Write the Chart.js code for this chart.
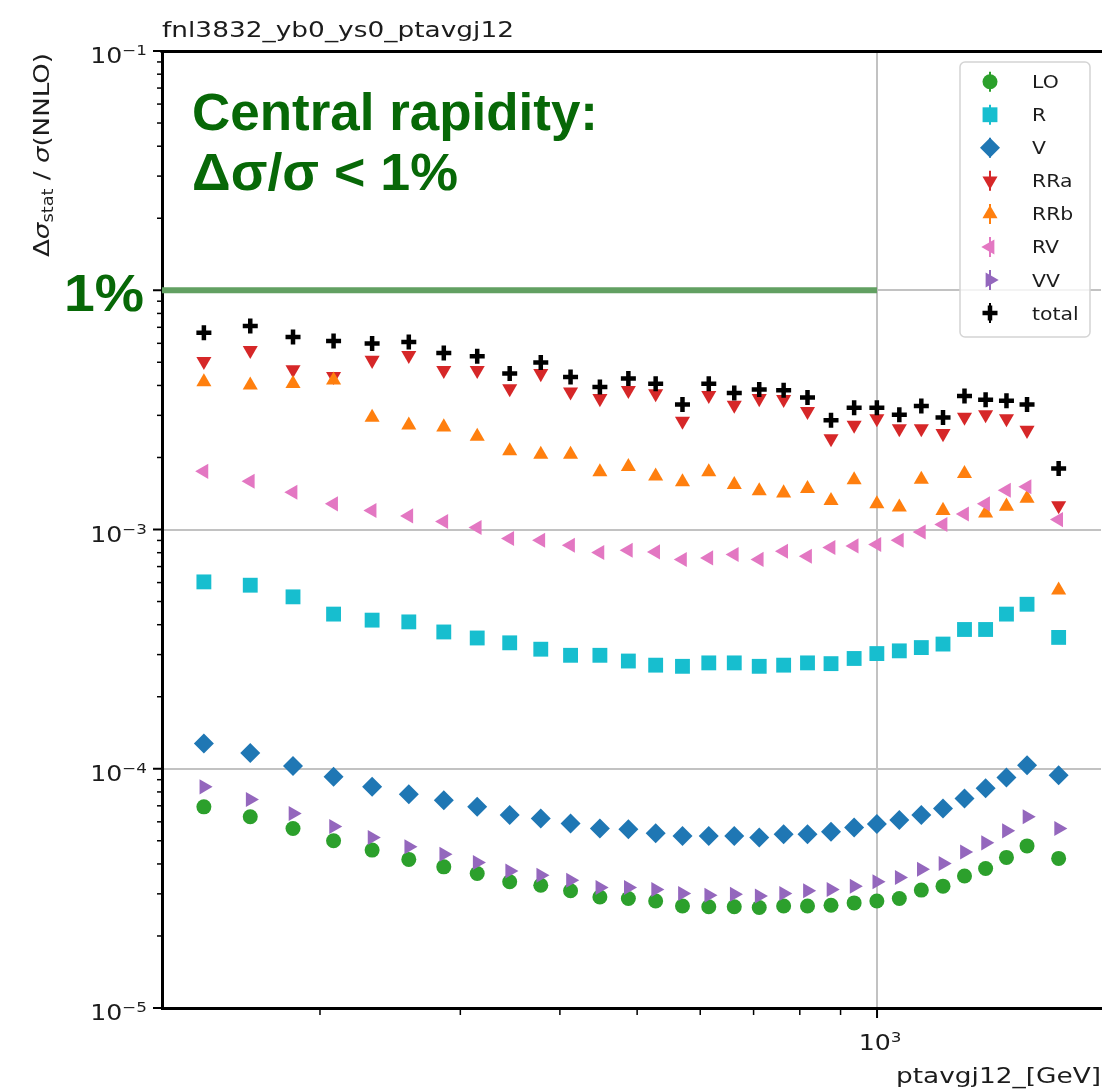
<!DOCTYPE html>
<html>
<head>
<meta charset="utf-8">
<script src="https://cdn.jsdelivr.net/npm/chart.js@4.4.1/dist/chart.umd.min.js"></script>
<style>
  html, body { margin: 0; padding: 0; background: #fff; }
  canvas { display: block; }
</style>
</head>
<body>
<canvas id="chart" width="1102" height="1090"></canvas>
<script>
// ptavg bin centres [GeV]
const ptavg = [143, 163.5, 185, 208, 232.5, 258.5, 286, 315, 346, 378.5, 412.5, 449, 487.5, 527.5, 570,
  615, 662, 711.5, 763.5, 818, 875.5, 936, 999.5, 1066.5, 1136.5, 1210, 1287.5, 1368.5, 1453.5, 1542.5, 1690];

// relative statistical uncertainty per contribution
const statLO = [6.93e-5, 6.30e-5, 5.63e-5, 5.00e-5, 4.57e-5, 4.18e-5, 3.89e-5, 3.65e-5, 3.37e-5, 3.26e-5, 3.09e-5,
  2.91e-5, 2.87e-5, 2.80e-5, 2.67e-5, 2.65e-5, 2.65e-5, 2.63e-5, 2.67e-5, 2.67e-5, 2.69e-5, 2.75e-5, 2.80e-5,
  2.87e-5, 3.11e-5, 3.23e-5, 3.56e-5, 3.83e-5, 4.26e-5, 4.76e-5, 4.22e-5];
const statR = [6.04e-4, 5.85e-4, 5.23e-4, 4.43e-4, 4.18e-4, 4.11e-4, 3.73e-4, 3.52e-4, 3.36e-4, 3.16e-4, 2.98e-4,
  2.98e-4, 2.82e-4, 2.71e-4, 2.68e-4, 2.77e-4, 2.77e-4, 2.68e-4, 2.71e-4, 2.77e-4, 2.75e-4, 2.89e-4, 3.03e-4,
  3.11e-4, 3.21e-4, 3.32e-4, 3.82e-4, 3.82e-4, 4.43e-4, 4.87e-4, 3.54e-4];
const statV = [1.276e-4, 1.165e-4, 1.028e-4, 9.25e-5, 8.40e-5, 7.83e-5, 7.39e-5, 6.93e-5, 6.40e-5, 6.20e-5, 5.91e-5,
  5.63e-5, 5.58e-5, 5.37e-5, 5.23e-5, 5.23e-5, 5.23e-5, 5.16e-5, 5.33e-5, 5.33e-5, 5.45e-5, 5.68e-5, 5.87e-5,
  6.10e-5, 6.40e-5, 6.82e-5, 7.51e-5, 8.28e-5, 9.20e-5, 1.035e-4, 9.40e-5];
const statRRa = [5.05e-3, 5.61e-3, 4.66e-3, 4.37e-3, 5.10e-3, 5.35e-3, 4.63e-3, 4.63e-3, 3.88e-3, 4.49e-3, 3.76e-3,
  3.53e-3, 3.82e-3, 3.70e-3, 2.84e-3, 3.64e-3, 3.31e-3, 3.53e-3, 3.50e-3, 3.12e-3, 2.40e-3, 2.73e-3, 2.91e-3,
  2.64e-3, 2.64e-3, 2.52e-3, 2.95e-3, 3.02e-3, 2.91e-3, 2.60e-3, 1.26e-3];
const statRRb = [4.14e-3, 4.01e-3, 4.07e-3, 4.21e-3, 2.94e-3, 2.73e-3, 2.68e-3, 2.45e-3, 2.13e-3, 2.06e-3, 2.06e-3,
  1.74e-3, 1.83e-3, 1.67e-3, 1.58e-3, 1.74e-3, 1.54e-3, 1.45e-3, 1.42e-3, 1.48e-3, 1.32e-3, 1.61e-3, 1.28e-3,
  1.24e-3, 1.62e-3, 1.20e-3, 1.71e-3, 1.17e-3, 1.25e-3, 1.35e-3, 5.58e-4];
const statRV = [1.75e-3, 1.59e-3, 1.43e-3, 1.28e-3, 1.20e-3, 1.14e-3, 1.08e-3, 1.02e-3, 9.17e-4, 9.02e-4, 8.60e-4,
  8.01e-4, 8.19e-4, 8.06e-4, 7.49e-4, 7.61e-4, 7.86e-4, 7.50e-4, 8.11e-4, 7.73e-4, 8.41e-4, 8.54e-4, 8.66e-4,
  9.02e-4, 9.77e-4, 1.05e-3, 1.16e-3, 1.28e-3, 1.46e-3, 1.51e-3, 1.10e-3];
const statVV = [8.40e-5, 7.44e-5, 6.50e-5, 5.74e-5, 5.16e-5, 4.72e-5, 4.39e-5, 4.06e-5, 3.74e-5, 3.59e-5, 3.42e-5,
  3.19e-5, 3.19e-5, 3.13e-5, 3.01e-5, 2.96e-5, 2.99e-5, 2.94e-5, 3.01e-5, 3.09e-5, 3.13e-5, 3.23e-5, 3.37e-5,
  3.51e-5, 3.80e-5, 4.02e-5, 4.49e-5, 4.90e-5, 5.50e-5, 6.30e-5, 5.63e-5];
const statTotal = [6.65e-3, 7.09e-3, 6.38e-3, 6.14e-3, 5.99e-3, 6.08e-3, 5.47e-3, 5.30e-3, 4.49e-3, 4.99e-3, 4.34e-3,
  3.94e-3, 4.28e-3, 4.07e-3, 3.33e-3, 4.07e-3, 3.72e-3, 3.85e-3, 3.82e-3, 3.56e-3, 2.86e-3, 3.23e-3, 3.23e-3,
  3.02e-3, 3.28e-3, 2.94e-3, 3.61e-3, 3.49e-3, 3.45e-3, 3.33e-3, 1.80e-3];

const seriesNames = ['LO', 'R', 'V', 'RRa', 'RRb', 'RV', 'VV', 'total'];
const seriesValues = [statLO, statR, statV, statRRa, statRRb, statRV, statVV, statTotal];

// tick labels (powers of ten), the 10^-2 label is hidden behind the "1%" note
const yTickExps = [-5, -4, -3, -1];
const xTickExps = [3];
const onePercent = 0.01;

const xMin = 126.7, xMax = 1910, yMin = 1e-5, yMax = 1e-1;

// marker look, matplotlib tab colours
const markers = [
  { color: '#2ca02c', style: 'circle', radius: 7.5, rot: 0 },
  { color: '#17becf', style: 'rect', radius: 10.5, rot: 0 },
  { color: '#1f77b4', style: 'rectRot', radius: 10, rot: 0 },
  { color: '#d62728', style: 'triangle', radius: 8.7, rot: 180 },
  { color: '#ff7f0e', style: 'triangle', radius: 8.7, rot: 0 },
  { color: '#e377c2', style: 'triangle', radius: 8.7, rot: 270 },
  { color: '#9467bd', style: 'triangle', radius: 8.7, rot: 90 },
  { color: '#000000', style: 'cross', radius: 7.5, rot: 0 }
];

const MPL_FONT = '"DejaVu Sans", sans-serif';
const NOTE_FONT = '"Liberation Sans", Arial, sans-serif';
const NOTE_GREEN = '#076807';
const SX = 1.2; // the figure is stretched sideways

function isDecade(v) {
  const l = Math.log10(v);
  return Math.abs(l - Math.round(l)) < 1e-9;
}

function text(ctx, s, x, y, font, opt = {}) {
  ctx.save();
  ctx.font = font;
  ctx.fillStyle = opt.color || '#1c1c1c';
  ctx.textAlign = 'left';
  ctx.textBaseline = 'alphabetic';
  const w = ctx.measureText(s).width;
  const sx = opt.w ? opt.w / w : (opt.sx || 1);
  let x0 = x;
  if (opt.align === 'right') x0 = x - w * sx;
  else if (opt.align === 'center') x0 = x - w * sx / 2;
  ctx.translate(x0, y);
  ctx.scale(sx, 1);
  ctx.fillText(s, 0, 0);
  ctx.restore();
  return w * sx;
}

function powWidth(ctx, exp) {
  ctx.font = '21px ' + MPL_FONT;
  const a = ctx.measureText('10').width * SX;
  ctx.font = '14px ' + MPL_FONT;
  const b = ctx.measureText(exp < 0 ? '\u2212' + (-exp) : String(exp)).width * SX;
  return [a, b];
}

function powLabel(ctx, exp, x, y, align) {
  const [a, b] = powWidth(ctx, exp);
  let x0 = x;
  if (align === 'right') x0 = x - a - b;
  if (align === 'center') x0 = x - (a + b) / 2;
  text(ctx, '10', x0, y, '21px ' + MPL_FONT, { sx: SX });
  text(ctx, exp < 0 ? '\u2212' + (-exp) : String(exp), x0 + a, y - 8, '14px ' + MPL_FONT, { sx: SX });
}

const decoPlugin = {
  id: 'deco',
  afterDraw(chart) {
    const { ctx, chartArea: a, scales: { x, y } } = chart;
    ctx.save();

    // top spine
    ctx.strokeStyle = '#000';
    ctx.lineWidth = 3;
    ctx.beginPath();
    ctx.moveTo(a.left - 1.5, a.top + 0.5);
    ctx.lineTo(a.right + 1, a.top + 0.5);
    ctx.stroke();

    // y ticks (outside, left)
    for (let e = -5; e <= -1; e++) {
      for (let m = 1; m <= 9; m++) {
        const v = m * Math.pow(10, e);
        if (v > yMax * 1.0001) break;
        const py = y.getPixelForValue(v);
        const major = m === 1;
        ctx.lineWidth = major ? 2 : 1.5;
        ctx.beginPath();
        ctx.moveTo(a.left - (major ? 9 : 5), py);
        ctx.lineTo(a.left - 1, py);
        ctx.stroke();
      }
    }
    // x ticks (outside, bottom)
    for (let e = 2; e <= 3; e++) {
      for (let m = 1; m <= 9; m++) {
        const v = m * Math.pow(10, e);
        if (v < xMin || v > xMax) continue;
        const px = x.getPixelForValue(v);
        const major = m === 1;
        ctx.lineWidth = major ? 2 : 1.5;
        ctx.beginPath();
        ctx.moveTo(px, a.bottom + 1);
        ctx.lineTo(px, a.bottom + (major ? 10 : 7));
        ctx.stroke();
      }
    }

    // tick labels
    yTickExps.forEach(e => powLabel(ctx, e, 147, y.getPixelForValue(Math.pow(10, e)) + 12, 'right'));
    xTickExps.forEach(e => powLabel(ctx, e, x.getPixelForValue(Math.pow(10, e)) + 3, a.bottom + 42, 'center'));

    // title and axis labels
    text(ctx, 'fnl3832_yb0_ys0_ptavgj12', 162, 37, '22px ' + MPL_FONT, { w: 352 });
    text(ctx, 'ptavgj12_[GeV]', 1101, 1083, '22px ' + MPL_FONT, { w: 205, align: 'right' });

    // rotated y label
    ctx.save();
    ctx.translate(49, 257);
    ctx.rotate(-Math.PI / 2);
    const parts = [
      { t: '\u0394', f: '22px ' + MPL_FONT, dy: 0 },
      { t: '\u03c3', f: 'italic 22px ' + MPL_FONT, dy: 0 },
      { t: 'stat', f: '15px ' + MPL_FONT, dy: 4 },
      { t: ' / ', f: '22px ' + MPL_FONT, dy: 0 },
      { t: '\u03c3', f: 'italic 22px ' + MPL_FONT, dy: 0 },
      { t: '(NNLO)', f: '22px ' + MPL_FONT, dy: 0 }
    ];
    let total = 0;
    parts.forEach(p => { ctx.font = p.f; p.w = ctx.measureText(p.t).width; total += p.w; });
    ctx.scale(204 / total, 1);
    ctx.fillStyle = '#1c1c1c';
    let cx = 0;
    parts.forEach(p => { ctx.font = p.f; ctx.fillText(p.t, cx, p.dy); cx += p.w; });
    ctx.restore();

    // legend
    const lx = 960, ly = 62, lw = 130, lh = 275;
    ctx.fillStyle = 'rgba(255,255,255,0.8)';
    ctx.strokeStyle = '#d4d4d4';
    ctx.lineWidth = 1.5;
    ctx.beginPath();
    ctx.roundRect(lx, ly, lw, lh, 5);
    ctx.fill();
    ctx.stroke();
    seriesNames.forEach((name, i) => {
      const my = 81.7 + i * 33.05;
      const mk = markers[i];
      ctx.strokeStyle = mk.color;
      ctx.fillStyle = mk.color;
      ctx.lineWidth = 2;
      ctx.beginPath();
      ctx.moveTo(990, my - 10);
      ctx.lineTo(990, my + 10);
      ctx.stroke();
      ctx.lineWidth = mk.style === 'cross' ? 4.5 : 0;
      Chart.helpers.drawPoint(ctx, {
        pointStyle: mk.style, radius: mk.radius, rotation: mk.rot,
        borderWidth: mk.style === 'cross' ? 4.5 : 0
      }, 990, my);
      text(ctx, name, 1032, my + 6.5, '17px ' + MPL_FONT, { sx: SX });
    });

    // slide annotations
    text(ctx, 'Central rapidity:', 192, 130, 'bold 51px ' + NOTE_FONT, { color: NOTE_GREEN, w: 406 });
    text(ctx, '\u0394\u03c3/\u03c3 < 1%', 192, 190, 'bold 51px ' + NOTE_FONT, { color: NOTE_GREEN, w: 266 });
    text(ctx, '1%', 64, 311, 'bold 52px ' + NOTE_FONT, { color: NOTE_GREEN, w: 80 });

    ctx.restore();
  }
};

const datasets = seriesNames.map((name, i) => ({
  type: 'scatter',
  label: name,
  data: ptavg.map((pt, j) => ({ x: pt, y: seriesValues[i][j] })),
  pointStyle: markers[i].style,
  pointRadius: markers[i].radius,
  pointRotation: markers[i].rot,
  pointBackgroundColor: markers[i].color,
  pointBorderColor: markers[i].color,
  pointBorderWidth: markers[i].style === 'cross' ? 4.5 : 0,
  showLine: false,
  order: 20 - i
}));

// 1% reference line, from the left axis up to 10^3
datasets.push({
  type: 'line',
  label: '1%',
  data: [{ x: xMin, y: onePercent }, { x: 1000, y: onePercent }],
  borderColor: '#62a062',
  borderWidth: 6,
  pointRadius: 0,
  showLine: true,
  borderCapStyle: 'butt',
  order: 100
});

const gridColor = c => (c.tick && isDecade(c.tick.value)) ? '#c2c2c2' : 'rgba(0,0,0,0)';

new Chart(document.getElementById('chart'), {
  type: 'scatter',
  data: { datasets },
  options: {
    responsive: false,
    animation: false,
    devicePixelRatio: 1,
    layout: { autoPadding: false, padding: { left: 162, top: 51, right: 1, bottom: 82 } },
    plugins: { legend: { display: false }, tooltip: { enabled: false }, title: { display: false } },
    scales: {
      x: {
        type: 'logarithmic', min: xMin, max: xMax,
        ticks: { display: false },
        grid: { color: gridColor, lineWidth: 2, drawTicks: false },
        border: { display: true, color: '#000', width: 3 },
        afterFit: s => { s.height = 0; }
      },
      y: {
        type: 'logarithmic', min: yMin, max: yMax,
        ticks: { display: false },
        grid: { color: gridColor, lineWidth: 2, drawTicks: false },
        border: { display: true, color: '#000', width: 3 },
        afterFit: s => { s.width = 0; }
      }
    }
  },
  plugins: [decoPlugin]
});
</script>
</body>
</html>
